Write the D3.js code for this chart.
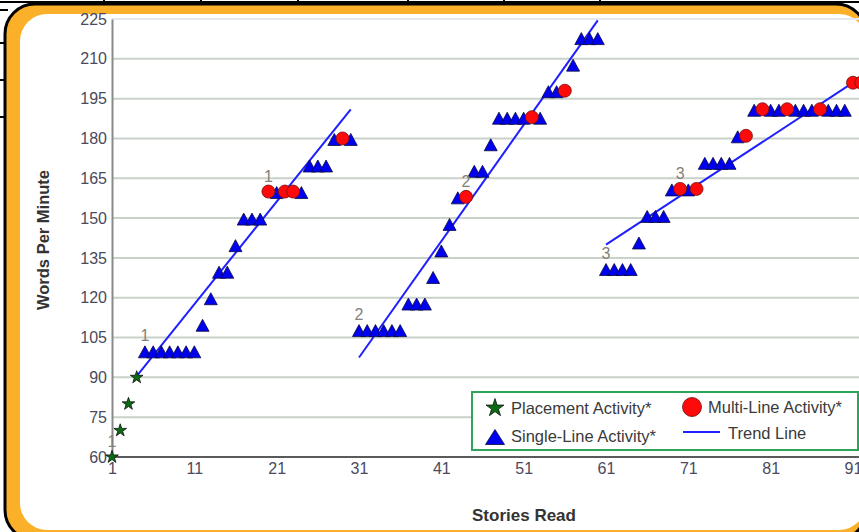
<!DOCTYPE html>
<html>
<head>
<meta charset="utf-8">
<script src="https://cdn.jsdelivr.net/npm/d3@7"></script>
<style>
    body { margin: 0; background: #fff; overflow: hidden; }
    text { font-family: "Liberation Sans", Arial, sans-serif; }
</style>
</head>
<body>
<div id="chart"></div>
<script>
// placement activity (stars)
let placementStory = [1, 2, 3, 4];
let placementWpm = [60, 70, 80, 90];

// single-line activity (triangles)
let singleStory = [5, 6, 7, 8, 9, 10, 11, 12, 13, 14, 15, 16, 17, 18, 19, 21, 24, 25, 26, 27, 28, 30,
    31, 32, 33, 34, 35, 36, 37, 38, 39, 40, 41, 42, 43, 45, 46, 47, 48, 49, 50, 51, 53, 54, 55, 57, 58, 59, 60,
    61, 62, 63, 64, 65, 66, 67, 68, 69, 71, 73, 74, 75, 76, 77, 79, 81, 82, 84, 85, 86, 88, 89, 90];
let singleWpm = [100, 100, 100, 100, 100, 100, 100, 110, 120, 130, 130, 140, 150, 150, 150, 160, 160, 170, 170, 170, 180, 180,
    108, 108, 108, 108, 108, 108, 118, 118, 118, 128, 138, 148, 158, 168, 168, 178, 188, 188, 188, 188, 188, 198, 198, 208, 218, 218, 218,
    131, 131, 131, 131, 141, 151, 151, 151, 161, 161, 171, 171, 171, 171, 181, 191, 191, 191, 191, 191, 191, 191, 191, 191];

// multi-line activity (circles)
let multiStory = [20, 22, 23, 29, 44, 52, 56, 70, 72, 78, 80, 83, 87, 91, 92];
let multiWpm = [160, 160, 160, 180, 158, 188, 198, 161, 161, 181, 191, 191, 191, 201, 201];

// trend lines, one per level
let trendStartStory = [4, 31, 61];
let trendStartWpm = [90.5, 97.5, 140];
let trendEndStory = [30, 60, 91];
let trendEndWpm = [191, 224.5, 201];

// level numbers written above some points
let levelStory = [1, 5, 20, 31, 44, 61, 70];
let levelWpm = [60, 100, 160, 108, 158, 131, 161];
let levelText = ["1", "1", "1", "2", "2", "3", "3"];

// axis ticks
let yTicks = [60, 75, 90, 105, 120, 135, 150, 165, 180, 195, 210, 225];
let xTicks = [1, 11, 21, 31, 41, 51, 61, 71, 81, 91];

let width = 859, height = 532;
let margin = {left: 112, top: 19, bottom: 457, right: 853};

let svg = d3.select("#chart").append("svg")
    .attr("width", width)
    .attr("height", height);

// table lines behind the frame
[104, 201, 298, 408, 504, 600].forEach(function (x) {
    svg.append("line").attr("x1", x).attr("x2", x).attr("y1", 0).attr("y2", 6)
        .attr("stroke", "#000").attr("stroke-width", 2);
});
svg.append("line").attr("x1", 0).attr("x2", width).attr("y1", 2).attr("y2", 2)
    .attr("stroke", "#000").attr("stroke-width", 2);
[10, 43, 80, 117].forEach(function (y) {
    svg.append("line").attr("x1", 0).attr("x2", 8).attr("y1", y).attr("y2", y)
        .attr("stroke", "#000").attr("stroke-width", 2);
});

// orange rounded frame
svg.append("rect")
    .attr("x", 5).attr("y", 4).attr("width", 861).attr("height", 536)
    .attr("rx", 30).attr("fill", "#fbb029")
    .attr("stroke", "#000").attr("stroke-width", 3);
svg.append("rect")
    .attr("x", 20).attr("y", 14).attr("width", 846).attr("height", 516)
    .attr("rx", 27).attr("fill", "#fff");

let x = d3.scaleLinear().domain([1, 91]).range([margin.left, margin.right]);
let y = d3.scaleLinear().domain([60, 225]).range([margin.bottom, margin.top]);

// grid
svg.append("g").selectAll("line")
    .data(yTicks.filter(d => d > 60))
    .enter().append("line")
    .attr("x1", margin.left).attr("x2", width)
    .attr("y1", d => y(d)).attr("y2", d => y(d))
    .attr("stroke", d => d === 225 ? "#e3e7ee" : "#c9d2c9")
    .attr("stroke-width", 2);

// y axis
let yAxis = svg.append("g")
    .attr("transform", "translate(" + margin.left + ",0)")
    .call(d3.axisLeft(y).tickValues(yTicks).tickSize(0).tickPadding(5));
yAxis.select(".domain").attr("stroke", "#8a8a8a").attr("stroke-width", 2);
yAxis.selectAll("text")
    .attr("fill", "#4a4a5c")
    .style("font-size", "16px");

// x axis
let xAxis = svg.append("g")
    .attr("transform", "translate(0," + margin.bottom + ")")
    .call(d3.axisBottom(x).tickValues(xTicks).tickSize(0).tickPadding(6));
xAxis.select(".domain").remove();
xAxis.selectAll("text")
    .attr("fill", "#4a4a5c")
    .style("font-size", "16px");
svg.append("line")
    .attr("x1", margin.left - 1).attr("x2", width)
    .attr("y1", margin.bottom).attr("y2", margin.bottom)
    .attr("stroke", "#5a5a5a").attr("stroke-width", 2);

// axis titles
svg.append("text")
    .attr("transform", "translate(49,240) rotate(-90)")
    .attr("text-anchor", "middle")
    .style("font-size", "16.5px").style("font-weight", "bold")
    .attr("fill", "#333")
    .text("Words Per Minute");
svg.append("text")
    .attr("x", 524).attr("y", 521)
    .attr("text-anchor", "middle")
    .style("font-size", "17px").style("font-weight", "bold")
    .attr("fill", "#333")
    .text("Stories Read");

// trend lines
svg.append("g").selectAll("line")
    .data(trendStartStory)
    .enter().append("line")
    .attr("x1", (d, i) => x(d)).attr("y1", (d, i) => y(trendStartWpm[i]))
    .attr("x2", (d, i) => x(trendEndStory[i])).attr("y2", (d, i) => y(trendEndWpm[i]))
    .attr("stroke", "#1f1fff").attr("stroke-width", 2);

let triPath = function (w, h) {
    return "M0," + (-h / 2) + "L" + (w / 2) + "," + (h / 2) + "L" + (-w / 2) + "," + (h / 2) + "Z";
};

// placement stars
svg.append("g").selectAll("path")
    .data(placementStory)
    .enter().append("path")
    .attr("transform", (d, i) => "translate(" + x(d) + "," + y(placementWpm[i]) + ")")
    .attr("d", d3.symbol(d3.symbolStar).size(50))
    .attr("fill", "#0b6b12").attr("stroke", "#111").attr("stroke-width", 0.8);

// single-line triangles
svg.append("g").selectAll("path")
    .data(singleStory)
    .enter().append("path")
    .attr("transform", (d, i) => "translate(" + x(d) + "," + (y(singleWpm[i]) + 1) + ")")
    .attr("d", triPath(13, 12))
    .attr("fill", "#0000f0").attr("stroke", "#0a0a40").attr("stroke-width", 0.8);

// multi-line circles
svg.append("g").selectAll("circle")
    .data(multiStory)
    .enter().append("circle")
    .attr("cx", d => x(d))
    .attr("cy", (d, i) => y(multiWpm[i]))
    .attr("r", 6.5)
    .attr("fill", "#ff0a0a").attr("stroke", "#701010").attr("stroke-width", 0.8);

// level labels
svg.append("g").selectAll("text")
    .data(levelStory)
    .enter().append("text")
    .attr("x", d => x(d))
    .attr("y", (d, i) => y(levelWpm[i]) - 10)
    .attr("text-anchor", "middle")
    .style("font-size", "16px")
    .attr("fill", "#85807a")
    .text((d, i) => levelText[i]);

// legend
let legend = svg.append("g");
legend.append("rect")
    .attr("x", 472).attr("y", 392).attr("width", 386).attr("height", 58)
    .attr("fill", "#fff").attr("stroke", "#2fa35a").attr("stroke-width", 2);
legend.append("path")
    .attr("transform", "translate(495,408)")
    .attr("d", d3.symbol(d3.symbolStar).size(100))
    .attr("fill", "#0b6b12").attr("stroke", "#111").attr("stroke-width", 0.8);
legend.append("path")
    .attr("transform", "translate(495,437)")
    .attr("d", triPath(19, 15))
    .attr("fill", "#0000f0").attr("stroke", "#0a0a40").attr("stroke-width", 0.8);
legend.append("circle")
    .attr("cx", 692).attr("cy", 407).attr("r", 9.5)
    .attr("fill", "#ff0a0a").attr("stroke", "#701010").attr("stroke-width", 0.8);
legend.append("line")
    .attr("x1", 683).attr("x2", 720).attr("y1", 432).attr("y2", 432)
    .attr("stroke", "#1f1fff").attr("stroke-width", 2);

let legendText = [
    {x: 511, y: 414, t: "Placement Activity*"},
    {x: 708, y: 413, t: "Multi-Line Activity*"},
    {x: 511, y: 442, t: "Single-Line Activity*"},
    {x: 728, y: 439, t: "Trend Line"}
];
legend.selectAll("text.lg")
    .data(legendText)
    .enter().append("text")
    .attr("class", "lg")
    .attr("x", d => d.x).attr("y", d => d.y)
    .style("font-size", "16.5px")
    .attr("fill", "#3a3a3a")
    .text(d => d.t);
</script>
</body>
</html>
